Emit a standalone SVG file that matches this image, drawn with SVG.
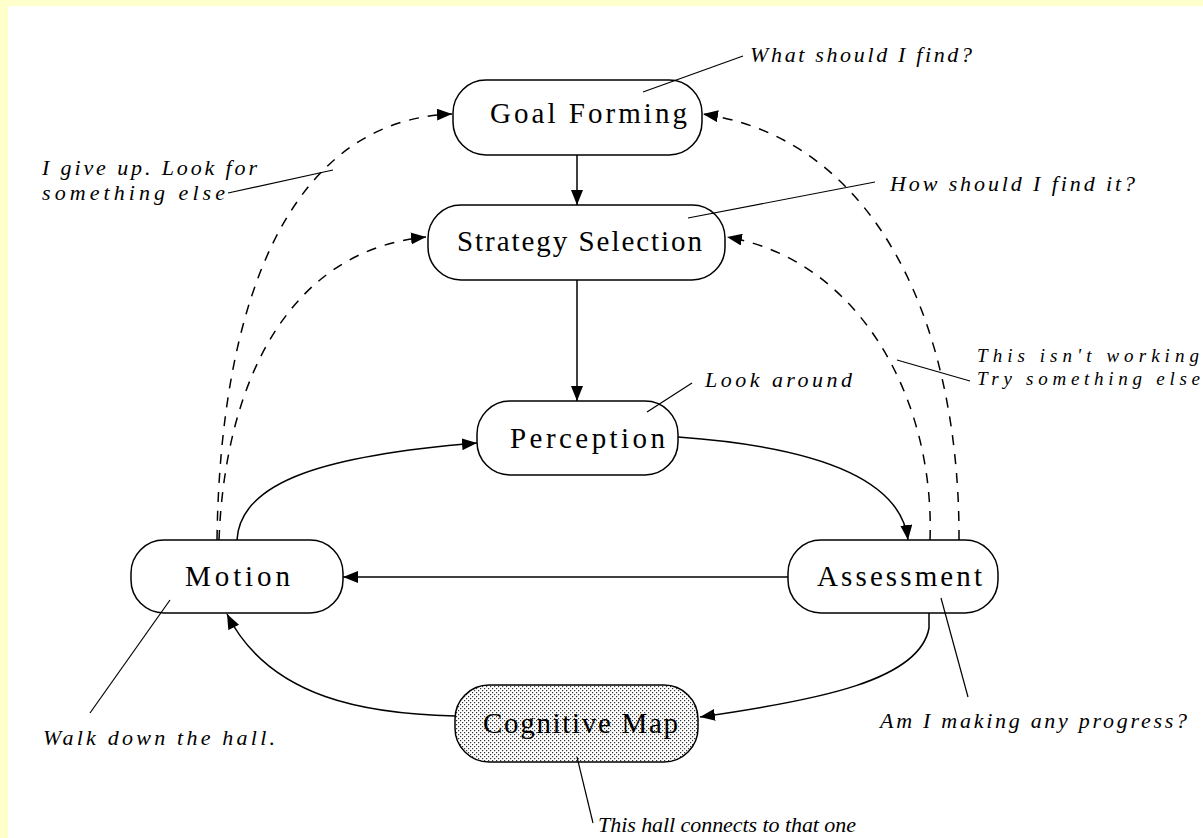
<svg xmlns="http://www.w3.org/2000/svg" width="1203" height="838" viewBox="0 0 1203 838">
<style>
.node{fill:#fff;stroke:#000;stroke-width:1.5}
.lbl{font-family:"Liberation Serif",serif;font-size:29px;fill:#000}
.ann{font-family:"Liberation Serif",serif;font-style:italic;font-size:22px;fill:#000}
.ann2{font-family:"Liberation Serif",serif;font-style:italic;font-size:19px;fill:#000}
.c{fill:none;stroke:#000;stroke-width:1.5}
.d{fill:none;stroke:#000;stroke-width:1.5;stroke-dasharray:10 9}
.lead{fill:none;stroke:#000;stroke-width:1.2}
</style>
<defs>
<marker id="ah" markerUnits="userSpaceOnUse" viewBox="0 0 15 12" refX="15" refY="6" markerWidth="15" markerHeight="12" orient="auto">
<path d="M0,0 L15,6 L0,12 Z" fill="#000"/>
</marker>
<pattern id="dots" patternUnits="userSpaceOnUse" width="4" height="4">
<rect width="4" height="4" fill="#fff"/>
<rect x="0" y="0" width="1.2" height="1.2" fill="#333"/>
<rect x="2" y="2" width="1.2" height="1.2" fill="#333"/>
</pattern>
</defs>
<rect x="0" y="0" width="1203" height="838" fill="#ffffcc"/>
<rect x="8" y="6" width="1195" height="832" fill="#fff"/>

<g id="connectors">
<path class="c" d="M577,155 L577,205" marker-end="url(#ah)"/>
<path class="c" d="M577,280 L577,401" marker-end="url(#ah)"/>
<path class="c" d="M678,437 C790,445 900,470 908,540" marker-end="url(#ah)"/>
<path class="c" d="M788,577 L343,577" marker-end="url(#ah)"/>
<path class="c" d="M237,540 C240,480 330,455 477,443" marker-end="url(#ah)"/>
<path class="c" d="M929,613 L929,628 C920,680 820,700 700,717" marker-end="url(#ah)"/>
<path class="c" d="M455,716 C370,714 270,700 227,614" marker-end="url(#ah)"/>
<path class="d" d="M217,540 C220,300 290,120 452,114" marker-end="url(#ah)"/>
<path class="d" d="M219,540 C225,380 290,250 426,237" marker-end="url(#ah)"/>
<path class="d" d="M959,540 C960,330 880,140 703,114" marker-end="url(#ah)"/>
<path class="d" d="M930,540 C935,400 860,260 727,237" marker-end="url(#ah)"/>
</g>

<g id="goal-forming">
<rect class="node" x="453" y="80" width="249" height="75" rx="33"/>
<text class="lbl" x="490" y="123" textLength="197" lengthAdjust="spacing">Goal Forming</text>
</g>
<g id="strategy-selection">
<rect class="node" x="428" y="205" width="297" height="75" rx="33"/>
<text class="lbl" x="457" y="251" textLength="245" lengthAdjust="spacing">Strategy Selection</text>
</g>
<g id="perception">
<rect class="node" x="477" y="401" width="201" height="74" rx="33"/>
<text class="lbl" x="510" y="448" textLength="155" lengthAdjust="spacing">Perception</text>
</g>
<g id="motion">
<rect class="node" x="131" y="540" width="212" height="73" rx="33"/>
<text class="lbl" x="185" y="586" textLength="105" lengthAdjust="spacing">Motion</text>
</g>
<g id="assessment">
<rect class="node" x="788" y="540" width="210" height="73" rx="33"/>
<text class="lbl" x="817" y="586" textLength="165" lengthAdjust="spacing">Assessment</text>
</g>
<g id="cognitive-map">
<rect x="455" y="685" width="243" height="77" rx="34" fill="url(#dots)" stroke="#000" stroke-width="1.5"/>
<text class="lbl" x="483" y="733" textLength="195" lengthAdjust="spacing">Cognitive Map</text>
</g>

<g id="leaders">
<path class="lead" d="M743,56 L643,92"/>
<path class="lead" d="M875,182 L688,218"/>
<path class="lead" d="M228,193 L333,170"/>
<path class="lead" d="M692,383 L647,412"/>
<path class="lead" d="M970,381 L897,360"/>
<path class="lead" d="M90,713 L170,600"/>
<path class="lead" d="M968,697 L941,598"/>
<path class="lead" d="M593,823 L577,757"/>
</g>

<g id="annotations">
<text class="ann" x="750" y="62" textLength="222" lengthAdjust="spacing">What should I find?</text>
<text class="ann" x="890" y="191" textLength="245" lengthAdjust="spacing">How should I find it?</text>
<text class="ann" x="42" y="175" textLength="215" lengthAdjust="spacing">I give up. Look for</text>
<text class="ann" x="42" y="200" textLength="183" lengthAdjust="spacing">something else</text>
<text class="ann" x="705" y="387" textLength="147" lengthAdjust="spacing">Look around</text>
<text class="ann2" x="977" y="362" textLength="222" lengthAdjust="spacing">This isn't working</text>
<text class="ann2" x="977" y="385" textLength="223" lengthAdjust="spacing">Try something else</text>
<text class="ann" x="43" y="745" textLength="232" lengthAdjust="spacing">Walk down the hall.</text>
<text class="ann" x="880" y="728" textLength="307" lengthAdjust="spacing">Am I making any progress?</text>
<text class="ann" x="598" y="832" textLength="258" lengthAdjust="spacing">This hall connects to that one</text>
</g>
</svg>
